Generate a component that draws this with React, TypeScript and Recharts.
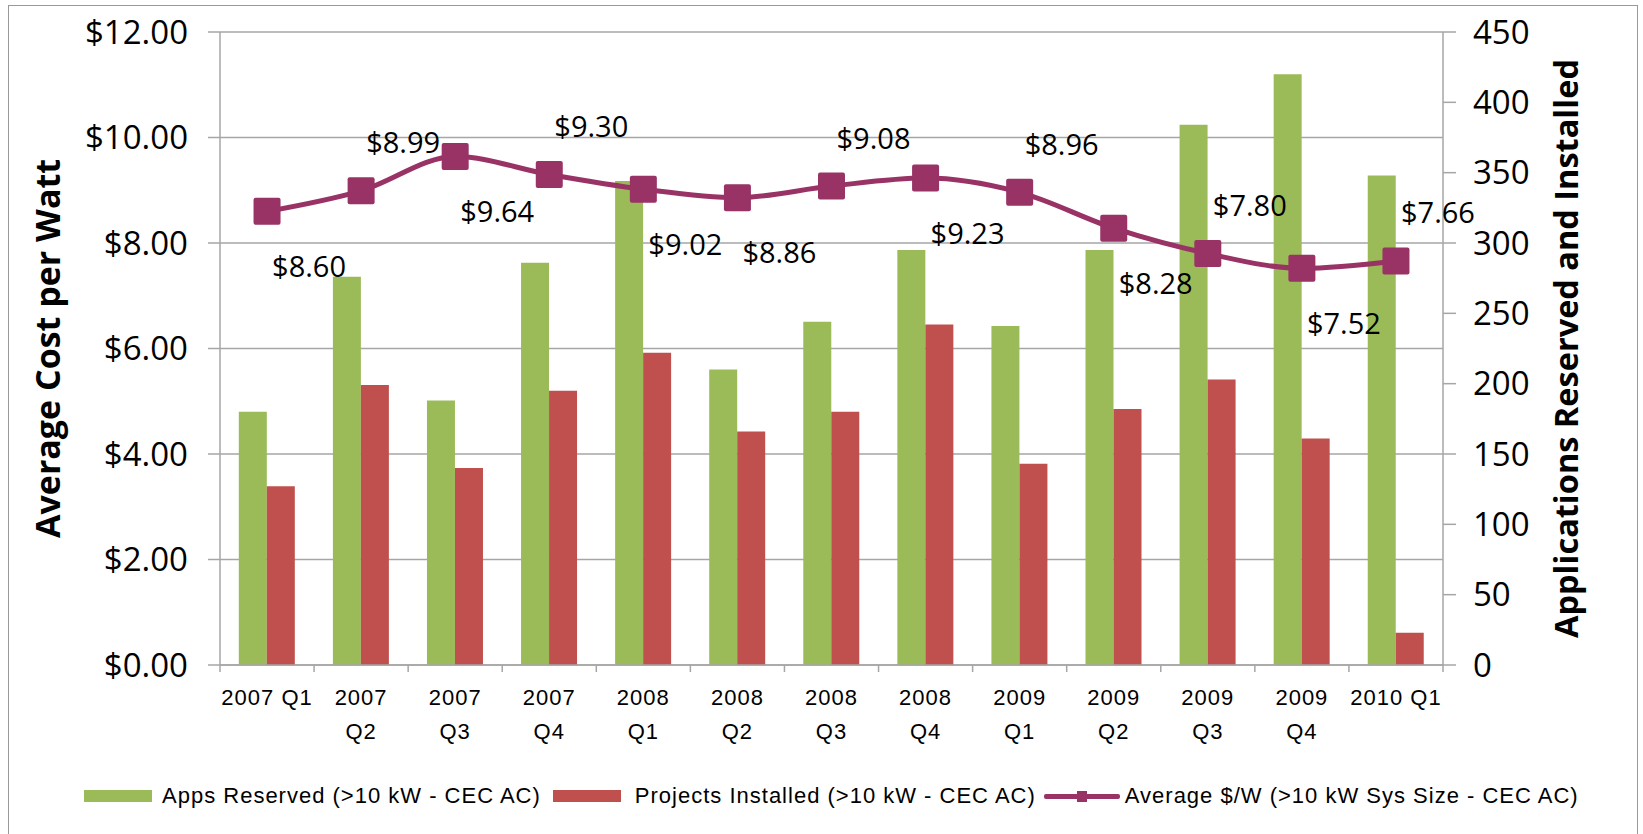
import React from "react";
import {
  Bar,
  CartesianGrid,
  ComposedChart,
  Label,
  LabelList,
  Legend,
  Line,
  XAxis,
  YAxis,
} from "recharts";

const quarters = [
  "2007 Q1", "2007 Q2", "2007 Q3", "2007 Q4",
  "2008 Q1", "2008 Q2", "2008 Q3", "2008 Q4",
  "2009 Q1", "2009 Q2", "2009 Q3", "2009 Q4",
  "2010 Q1",
];
const appsReserved = [180, 276, 188, 286, 344, 210, 244, 295, 241, 295, 384, 420, 348];
const projectsInstalled = [127, 199, 140, 195, 222, 166, 180, 242, 143, 182, 203, 161, 23];
const avgCostPerWatt = [8.6, 8.99, 9.64, 9.3, 9.02, 8.86, 9.08, 9.23, 8.96, 8.28, 7.8, 7.52, 7.66];
// which side of the marker each data label sits on
const labelSide = [
  "below", "above", "below", "above", "below", "below", "above",
  "below", "above", "below", "above", "below", "above",
];
const costTicks = [0, 2, 4, 6, 8, 10, 12];
const countTicks = [0, 50, 100, 150, 200, 250, 300, 350, 400, 450];

const GREEN = "#9BBB59";
const RED = "#C0504D";
const PLUM = "#993366";
const GRAY = "#A6A6A6";

const W = 1643;
const H = 834;
const LEFT_W = 220;
const RIGHT_W = 200;
const BAND = (W - LEFT_W - RIGHT_W) / quarters.length;

const SANS = "'Open Sans', 'Noto Sans', sans-serif";
const ARIAL = "'Liberation Sans', Arial, sans-serif";

const data = quarters.map((quarter, i) => ({
  quarter,
  reserved: appsReserved[i],
  installed: projectsInstalled[i],
  cost: avgCostPerWatt[i],
}));

function QuarterTick(props: any) {
  const { x, y, payload, index } = props;
  const half = typeof payload?.offset === "number" && payload.offset > 0 ? payload.offset : BAND / 2;
  const last = index === quarters.length - 1;
  const text: string = payload.value;
  const lines = index === 0 || last ? [text] : text.split(" ");
  return (
    <g>
      <line x1={x - half} x2={x - half} y1={y} y2={y + 7} stroke={GRAY} strokeWidth={1.5} />
      {last && <line x1={x + half} x2={x + half} y1={y} y2={y + 7} stroke={GRAY} strokeWidth={1.5} />}
      {lines.map((line, i) => (
        <text
          key={i}
          x={x}
          y={y + 40 + i * 34}
          textAnchor="middle"
          fontFamily={ARIAL}
          fontSize={22}
          style={{ letterSpacing: 1 }}
          fill="#000"
        >
          {line}
        </text>
      ))}
    </g>
  );
}

function SquareDot(props: any) {
  const { cx, cy } = props;
  if (cx == null || cy == null) return null;
  return <rect x={cx - 13.5} y={cy - 13.5} width={27} height={27} rx={2} fill={PLUM} />;
}

function CostLabel(props: any) {
  const { x, y, value, index } = props;
  const dy = labelSide[index] === "above" ? -49 : 54;
  return (
    <text
      x={x + 42}
      y={y + dy}
      textAnchor="middle"
      dominantBaseline="central"
      fontFamily={SANS}
      fontSize={29}
      fill="#000"
    >
      ${Number(value).toFixed(2)}
    </text>
  );
}

function axisTitle(text: string, dx: number, size: number) {
  return (props: any) => {
    const vb = props.viewBox || {};
    const cx = vb.x + dx;
    const cy = vb.y + vb.height / 2;
    return (
      <text
        x={cx}
        y={cy}
        transform={`rotate(-90, ${cx}, ${cy})`}
        textAnchor="middle"
        dominantBaseline="central"
        fontFamily={SANS}
        fontWeight={700}
        fontSize={size}
        fill="#000"
      >
        {text}
      </text>
    );
  };
}

function ChartLegend() {
  const swatch = (color: string) => (
    <span style={{ display: "inline-block", width: 68, height: 12, background: color }} />
  );
  return (
    <div
      style={{
        display: "flex",
        alignItems: "center",
        height: 45,
        paddingLeft: 84,
        fontFamily: ARIAL,
        fontSize: 22,
        letterSpacing: 1,
        color: "#000",
        whiteSpace: "nowrap",
      }}
    >
      {swatch(GREEN)}
      <span style={{ marginLeft: 10, marginRight: 12 }}>Apps Reserved (&gt;10 kW - CEC AC)</span>
      {swatch(RED)}
      <span style={{ marginLeft: 14, marginRight: 8 }}>Projects Installed (&gt;10 kW - CEC AC)</span>
      <span style={{ position: "relative", display: "inline-block", width: 76, height: 12 }}>
        <span style={{ position: "absolute", left: 0, right: 0, top: 4, height: 5, background: PLUM, borderRadius: 2 }} />
        <span style={{ position: "absolute", left: 33, top: 1, width: 10, height: 11, background: PLUM }} />
      </span>
      <span style={{ marginLeft: 5 }}>Average $/W (&gt;10 kW Sys Size - CEC AC)</span>
    </div>
  );
}

export default function App() {
  return (
    <div style={{ position: "relative", width: W, height: H, overflow: "hidden", background: "#fff" }}>
      <style>{`body{margin:0}`}</style>
      <div
        style={{
          position: "absolute",
          left: 8,
          top: 5,
          width: 1630,
          height: 860,
          border: "1.5px solid #999",
          boxSizing: "border-box",
        }}
      />
      <div style={{ position: "absolute", left: 0, top: 0 }}>
        <ComposedChart
          width={W}
          height={H}
          data={data}
          margin={{ top: 32, right: 0, bottom: 16, left: 0 }}
          barCategoryGap="20%"
          barGap={0}
        >
          <CartesianGrid yAxisId="left" vertical={false} stroke={GRAY} strokeWidth={1.5} />
          <XAxis
            dataKey="quarter"
            height={108}
            interval={0}
            tickLine={false}
            tickSize={0}
            tickMargin={0}
            axisLine={{ stroke: GRAY, strokeWidth: 1.5 }}
            tick={<QuarterTick />}
          />
          <YAxis
            yAxisId="left"
            width={LEFT_W}
            domain={[0, 12]}
            ticks={costTicks}
            interval={0}
            tickSize={12}
            tickMargin={20}
            axisLine={{ stroke: GRAY, strokeWidth: 1.5 }}
            tickLine={{ stroke: GRAY, strokeWidth: 1.5 }}
            tick={{ fontSize: 33, fill: "#000", fontFamily: SANS }}
            tickFormatter={(v: number) => `$${v.toFixed(2)}`}
          >
            <Label content={axisTitle("Average Cost per Watt", 47, 34)} />
          </YAxis>
          <YAxis
            yAxisId="right"
            orientation="right"
            width={RIGHT_W}
            domain={[0, 450]}
            ticks={countTicks}
            interval={0}
            tickSize={13}
            tickMargin={17}
            axisLine={{ stroke: GRAY, strokeWidth: 1.5 }}
            tickLine={{ stroke: GRAY, strokeWidth: 1.5 }}
            tick={{ fontSize: 33, fill: "#000", fontFamily: SANS, textAnchor: "start" }}
          >
            <Label content={axisTitle("Applications Reserved and Installed", 122, 32.5)} />
          </YAxis>
          <Legend
            verticalAlign="bottom"
            content={() => <ChartLegend />}
            wrapperStyle={{ left: 0, width: W, height: 45 }}
          />
          <Bar yAxisId="right" dataKey="reserved" fill={GREEN} isAnimationActive={false} />
          <Bar yAxisId="right" dataKey="installed" fill={RED} isAnimationActive={false} />
          <Line
            yAxisId="left"
            type="monotone"
            dataKey="cost"
            stroke={PLUM}
            strokeWidth={5}
            dot={(p: any) => <SquareDot key={p.index} {...p} />}
            activeDot={false}
            isAnimationActive={false}
          >
            <LabelList dataKey="cost" content={<CostLabel />} />
          </Line>
        </ComposedChart>
      </div>
    </div>
  );
}
